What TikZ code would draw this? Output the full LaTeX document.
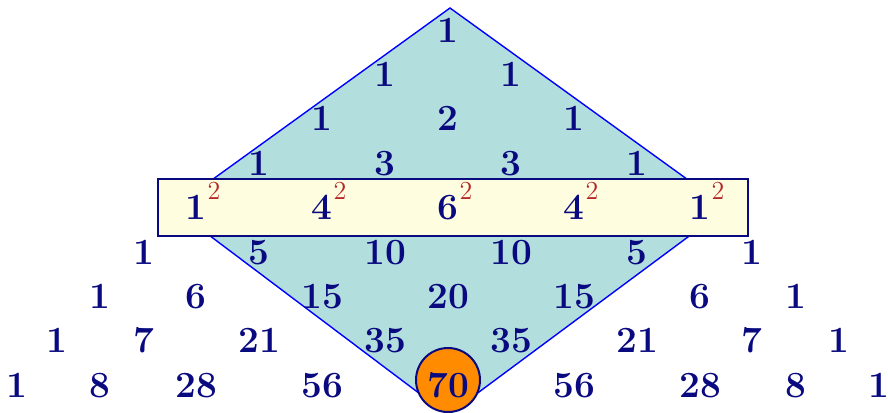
\documentclass[tikz,border=0pt]{standalone}
\usepackage{tikz}
\usetikzlibrary{positioning}
\definecolor{numblue}{RGB}{10,10,128}
\definecolor{supred}{RGB}{180,40,40}
\definecolor{diamfill}{RGB}{179,222,222}
\definecolor{bandfill}{RGB}{255,253,224}
\definecolor{huborange}{RGB}{255,140,0}
\newcommand{\sqr}[1]{#1\rlap{\kern0.6pt\raisebox{10pt}{\fontsize{13}{14}\selectfont\mdseries\color{supred}2}}}

\begin{document}
\begin{tikzpicture}[x=0.5pt, y=-0.5pt,
  num/.style={anchor=base, inner sep=0pt, text=numblue,
    font=\fontsize{18.5}{22}\selectfont\bfseries},
  diam/.style={draw=blue, fill=diamfill, line width=0.7pt, line join=miter},
  band/.style={draw=numblue, fill=bandfill, line width=1pt, rectangle,
    minimum width=295pt, minimum height=28.5pt, inner sep=0pt},
  hub/.style={circle, draw=numblue, fill=huborange, line width=1pt,
    minimum size=32pt, inner sep=0pt},
]
\useasboundingbox (0,0) rectangle (888,412);

%==================== BELAH KETUPAT ====================
\coordinate (dt) at (450,8);
\coordinate (dl) at (173,208);
\coordinate (db) at (448,415);
\coordinate (dr) at (727,208);
\draw[diam] (dt) -- (dl) -- (db) -- (dr) -- cycle;

%==================== PITA BARIS 4 & LINGKARAN ====================
\node[band] (row4) at (453,207.5) {};
\node[hub] (c70) at (448,380) {};

%==================== BARIS 0 - 3 ====================
\node[num] (r0c0) at (448,42) {1};

\node[num] (r1c0) at (385,86.4) {1};
\node[num] (r1c1) at (511,86.4) {1};

\node[num] (r2c0) at (322,130.8) {1};
\node[num] (r2c1) at (448,130.8) {2};
\node[num] (r2c2) at (574,130.8) {1};

\node[num] (r3c0) at (259,175.2) {1};
\node[num] (r3c1) at (385,175.2) {3};
\node[num] (r3c2) at (511,175.2) {3};
\node[num] (r3c3) at (637,175.2) {1};

%==================== BARIS 4 (kuadrat) ====================
\node[num] (r4c0) at (196,219.6) {\sqr{1}};
\node[num] (r4c1) at (322,219.6) {\sqr{4}};
\node[num] (r4c2) at (448,219.6) {\sqr{6}};
\node[num] (r4c3) at (574,219.6) {\sqr{4}};
\node[num] (r4c4) at (700,219.6) {\sqr{1}};

%==================== BARIS 5 - 8 ====================
\node[num] (r5c0) at (144,264) {1};
\node[num] (r5c1) at (259,264) {5};
\node[num] (r5c2) at (385,264) {10};
\node[num] (r5c3) at (511,264) {10};
\node[num] (r5c4) at (637,264) {5};
\node[num] (r5c5) at (752,264) {1};

\node[num] (r6c0) at (100,308.4) {1};
\node[num] (r6c1) at (196,308.4) {6};
\node[num] (r6c2) at (322,308.4) {15};
\node[num] (r6c3) at (448,308.4) {20};
\node[num] (r6c4) at (574,308.4) {15};
\node[num] (r6c5) at (700,308.4) {6};
\node[num] (r6c6) at (796,308.4) {1};

\node[num] (r7c0) at (57,352.8) {1};
\node[num] (r7c1) at (144,352.8) {7};
\node[num] (r7c2) at (259,352.8) {21};
\node[num] (r7c3) at (385,352.8) {35};
\node[num] (r7c4) at (511,352.8) {35};
\node[num] (r7c5) at (637,352.8) {21};
\node[num] (r7c6) at (752,352.8) {7};
\node[num] (r7c7) at (839,352.8) {1};

\node[num] (r8c0) at (17,397.2) {1};
\node[num] (r8c1) at (100,397.2) {8};
\node[num] (r8c2) at (196,397.2) {28};
\node[num] (r8c3) at (322,397.2) {56};
\node[num] (r8c4) at (448,397.2) {70};
\node[num] (r8c5) at (574,397.2) {56};
\node[num] (r8c6) at (700,397.2) {28};
\node[num] (r8c7) at (796,397.2) {8};
\node[num] (r8c8) at (879,397.2) {1};

\end{tikzpicture}
\end{document}
